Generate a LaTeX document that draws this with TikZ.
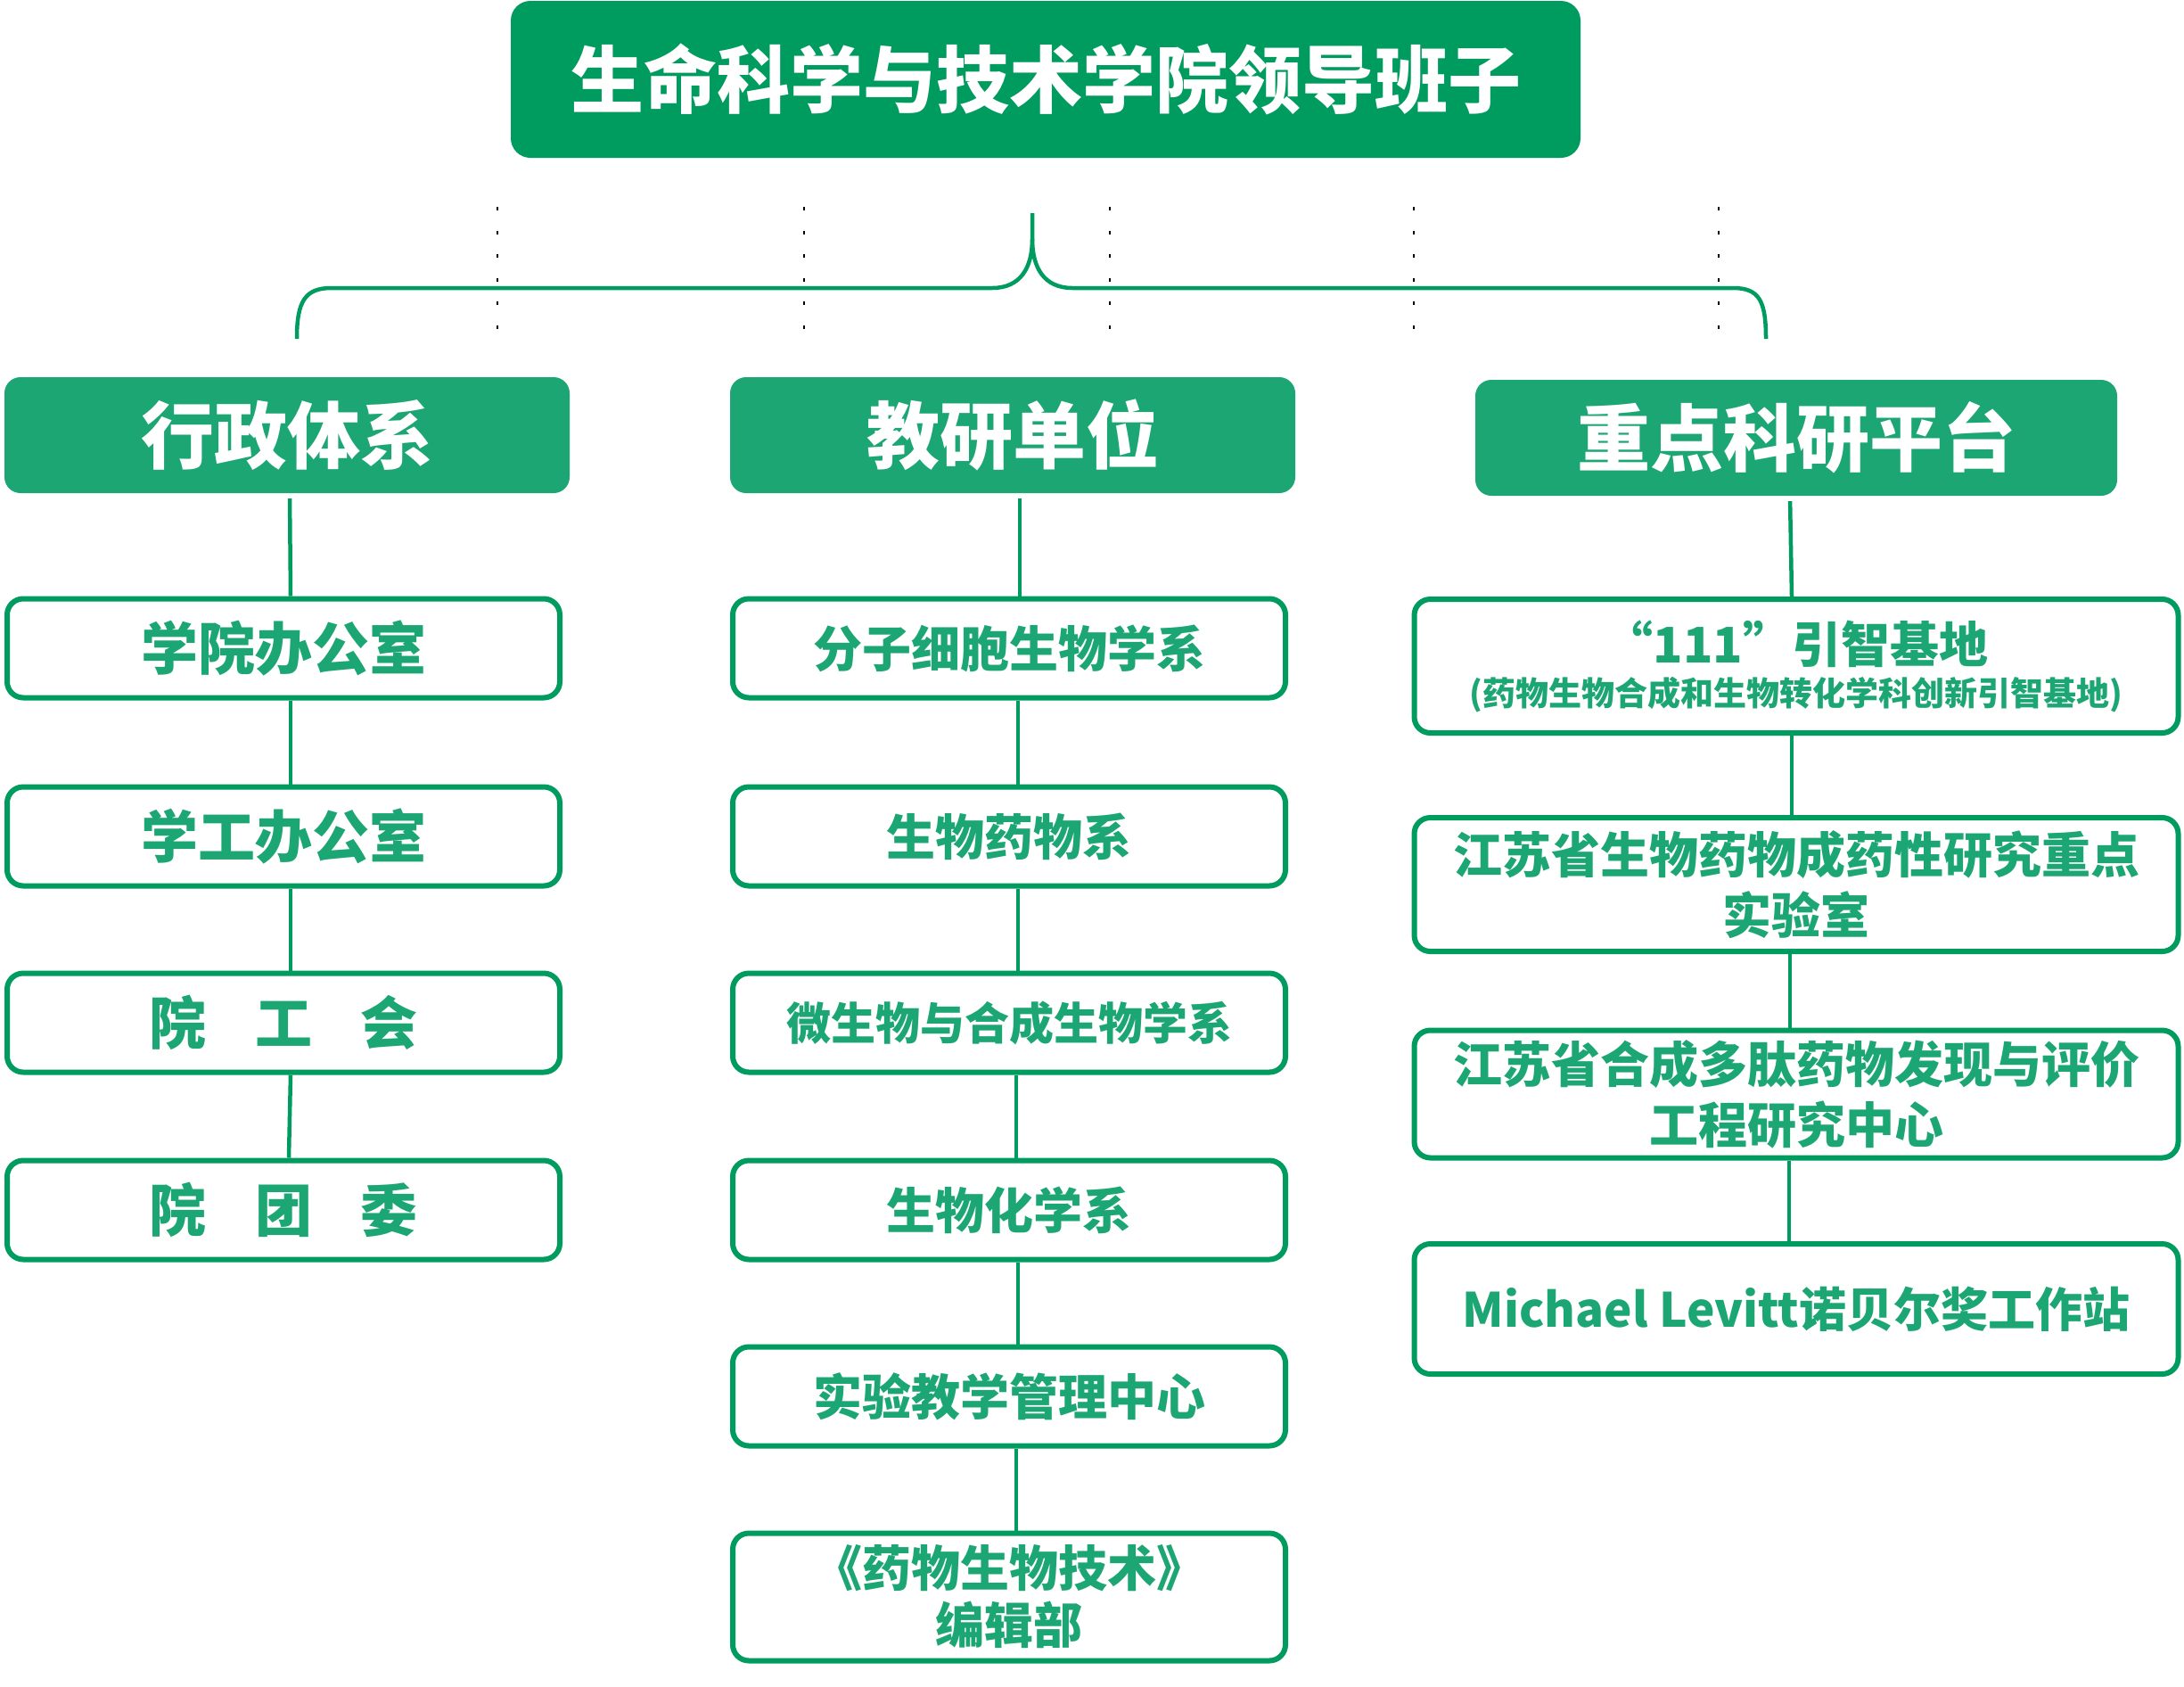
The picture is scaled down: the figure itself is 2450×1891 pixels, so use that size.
\documentclass[tikz,border=0pt]{standalone}
\usepackage{fontspec}
\setmainfont{Noto Sans CJK SC}
\definecolor{darkgreen}{RGB}{0,155,95}
\definecolor{lightgreen}{RGB}{27,166,115}
\begin{document}
\begin{tikzpicture}
[x=1pt, y=-1pt,
 title/.style={fill=darkgreen, rounded corners=22pt, text=white, font=\bfseries\fontsize{82}{90}\selectfont, minimum width=1200pt, minimum height=176pt, inner sep=0pt},
 head/.style={fill=lightgreen, rounded corners=18pt, text=white, font=\bfseries\fontsize{82}{90}\selectfont, minimum height=130pt, inner sep=0pt},
 unit/.style={draw=darkgreen, line width=6pt, rounded corners=18pt, fill=white, text=lightgreen, font=\bfseries\fontsize{55}{68}\selectfont, align=center, inner sep=0pt},
 link/.style={draw=darkgreen, line width=4.5pt},
 dots/.style={line width=2.5pt, dash pattern=on 4pt off 22.6pt}]
\useasboundingbox (0,0) rectangle (2450,1891);
\node [title] (top) at (1173,89) {生命科学与技术学院领导班子};
\draw [dots] (558,232) -- (558,372);
\draw [dots] (902,232) -- (902,372);
\draw [dots] (1245,232) -- (1245,372);
\draw [dots] (1586,232) -- (1586,372);
\draw [dots] (1928,232) -- (1928,372);
\draw [darkgreen, line width=4.5pt] (333,380) .. controls (333,338) and (342,323) .. (372,323) -- (1113,323) .. controls (1145,323) and (1158,300) .. (1158,268) -- (1158,239);
\draw [darkgreen, line width=4.5pt] (1158,268) .. controls (1158,300) and (1171,323) .. (1203,323) -- (1944,323) .. controls (1974,323) and (1981,338) .. (1981,380);
\node [head, minimum width=634pt] (h1) at (322,488) {行政体系};
\node [head, minimum width=634pt] (h2) at (1136,488) {教研单位};
\node [head, minimum width=720pt] (h3) at (2015,491) {重点科研平台};
\node [unit, minimum width=620pt, minimum height=111pt, font=\bfseries\fontsize{64}{70}\selectfont] (a1) at (318,727) {学院办公室};
\node [unit, minimum width=620pt, minimum height=111pt, font=\bfseries\fontsize{64}{70}\selectfont] (a2) at (318,938) {学工办公室};
\node [unit, minimum width=620pt, minimum height=111pt, font=\bfseries\fontsize{64}{70}\selectfont] (a3) at (318,1147) {院\hspace{0.85em}工\hspace{0.85em}会};
\node [unit, minimum width=620pt, minimum height=111pt, font=\bfseries\fontsize{64}{70}\selectfont] (a4) at (318,1357) {院\hspace{0.85em}团\hspace{0.85em}委};
\node [unit, minimum width=620pt, minimum height=111pt] (b1) at (1132,727) {分子细胞生物学系};
\node [unit, minimum width=620pt, minimum height=111pt] (b2) at (1132,938) {生物药物系};
\node [unit, minimum width=620pt, minimum height=111pt, font=\bfseries\fontsize{50}{60}\selectfont] (b3) at (1132,1147) {微生物与合成生物学系};
\node [unit, minimum width=620pt, minimum height=111pt] (b4) at (1132,1357) {生物化学系};
\node [unit, minimum width=620pt, minimum height=111pt] (b5) at (1132,1566) {实验教学管理中心};
\node [unit, minimum width=620pt, minimum height=143pt, font=\bfseries\fontsize{55}{64}\selectfont] (b6) at (1132,1791) {《药物生物技术》\\编辑部};
\node [unit, minimum width=857pt, minimum height=150pt] (c1) at (2015,747) {“111”引智基地\\[-20pt]{\fontsize{37}{44}\selectfont (药物生物合成和生物转化学科创新引智基地)}};
\node [unit, minimum width=857pt, minimum height=150pt] (c2) at (2015,992) {江苏省生物药物成药性研究重点\\实验室};
\node [unit, minimum width=857pt, minimum height=143pt] (c3) at (2015,1227) {江苏省合成多肽药物发现与评价\\工程研究中心};
\node [unit, minimum width=857pt, minimum height=146pt, font=\bfseries\fontsize{53}{64}\selectfont] (c4) at (2015,1468) {Michael Levitt诺贝尔奖工作站};
\draw [link, shorten <=6pt] ([xshift=3pt]h1.south) -- ([xshift=8pt]a1.north);
\draw [link] ([xshift=8pt]a1.south) -- ([xshift=8pt]a2.north);
\draw [link] ([xshift=8pt]a2.south) -- ([xshift=8pt]a3.north);
\draw [link] ([xshift=8pt]a3.south) -- ([xshift=6pt]a4.north);
\draw [link, shorten <=6pt] ([xshift=8pt]h2.south) -- ([xshift=12pt]b1.north);
\draw [link] ([xshift=10pt]b1.south) -- ([xshift=10pt]b2.north);
\draw [link] ([xshift=10pt]b2.south) -- ([xshift=10pt]b3.north);
\draw [link] ([xshift=8pt]b3.south) -- ([xshift=8pt]b4.north);
\draw [link] ([xshift=10pt]b4.south) -- ([xshift=10pt]b5.north);
\draw [link] ([xshift=8pt]b5.south) -- ([xshift=8pt]b6.north);
\draw [link, shorten <=6pt] ([xshift=-7pt]h3.south) -- ([xshift=-5pt]c1.north);
\draw [link] ([xshift=-5pt]c1.south) -- ([xshift=-5pt]c2.north);
\draw [link] ([xshift=-7pt]c2.south) -- ([xshift=-7pt]c3.north);
\draw [link] ([xshift=-8pt]c3.south) -- ([xshift=-8pt]c4.north);
\end{tikzpicture}
\end{document}
